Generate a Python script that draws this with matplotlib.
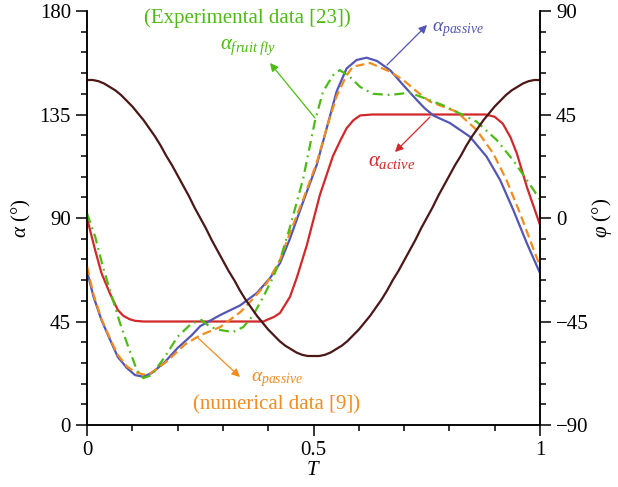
import matplotlib
matplotlib.use("Agg")
import matplotlib.pyplot as plt
from matplotlib.ticker import MultipleLocator

plt.rcParams['font.family'] = ['Liberation Serif', 'DejaVu Serif']
plt.rcParams['mathtext.fontset'] = 'custom'
plt.rcParams['mathtext.rm'] = 'Liberation Serif'
plt.rcParams['mathtext.it'] = 'Liberation Serif:italic'

# alpha_active (deg)
T_active = [0, 0.018, 0.032, 0.051, 0.068, 0.08, 0.094, 0.106, 0.125, 0.39, 0.397,
            0.413, 0.426, 0.448, 0.463, 0.485, 0.514, 0.543, 0.56, 0.573, 0.588,
            0.603, 0.63, 0.88, 0.9, 0.918, 0.935, 0.949, 0.971, 1.0]
alpha_active = [90, 76, 66, 57, 50, 47.5, 46, 45.3, 45, 45, 45.7,
                47, 48.7, 55.7, 64, 78, 100, 117, 124, 129, 132.5,
                134.6, 135, 135, 134, 131, 125, 118, 103.5, 87]

# alpha_passive (present model)
T_passive = [0, 0.014, 0.032, 0.051, 0.068, 0.088, 0.106, 0.124, 0.143, 0.172, 0.2,
             0.231, 0.25, 0.294, 0.338, 0.375, 0.404, 0.426, 0.448, 0.477, 0.507,
             0.529, 0.551, 0.573, 0.595, 0.617, 0.64, 0.669, 0.698, 0.728, 0.745,
             0.765, 0.801, 0.845, 0.882, 0.912, 0.941, 0.971, 1.0]
alpha_passive = [67, 56, 45.6, 37, 29.6, 24.8, 21.7, 21, 22.6, 27.4, 33.5,
                 39, 43, 47.8, 52, 57.4, 63.9, 70.4, 81, 97, 113,
                 129, 145, 155, 158.7, 159.7, 158.3, 154.3, 147.8, 141.3, 137.8,
                 134.5, 131.3, 125.4, 116.7, 106.5, 93.5, 79, 66]

# alpha_passive (numerical data [9])
T_numerical = [0, 0.014, 0.032, 0.051, 0.068, 0.088, 0.106, 0.124, 0.14, 0.172, 0.2,
               0.216, 0.25, 0.294, 0.338, 0.367, 0.397, 0.426, 0.448, 0.477, 0.507,
               0.529, 0.551, 0.573, 0.587, 0.625, 0.669, 0.698, 0.728, 0.757, 0.816,
               0.86, 0.897, 0.926, 0.956, 0.978, 1.0]
alpha_numerical = [69, 57, 46, 37.5, 30.5, 25.5, 23, 22, 22.5, 27, 32,
                   35, 39, 42.6, 49, 55, 61.7, 71.7, 83.5, 98, 114,
                   129, 143, 152, 155.8, 157.4, 153.6, 150, 145, 140.6, 136.2,
                   128.3, 118, 106.5, 92, 80.4, 69]

# alpha_fruit fly (experimental data [23])
T_fruitfly = [0, 0.018, 0.035, 0.055, 0.073, 0.091, 0.11, 0.124, 0.143, 0.172, 0.2,
              0.231, 0.253, 0.272, 0.294, 0.322, 0.345, 0.367, 0.389, 0.411, 0.426,
              0.448, 0.477, 0.503, 0.521, 0.543, 0.558, 0.58, 0.603, 0.631, 0.669,
              0.713, 0.786, 0.86, 0.904, 0.941, 0.971, 1.0]
alpha_fruitfly = [92, 81.9, 68.8, 55.8, 44.2, 34, 23.9, 20.4, 21.7, 29.7, 38.4,
                  44.2, 45.6, 42.6, 41.3, 40.4, 42.6, 47.8, 55.7, 64.3, 71.7,
                  86, 107, 132, 145, 152, 154.3, 151.4, 147, 144, 143.5,
                  144.5, 139, 131.9, 124, 115, 106.5, 98]

# stroke angle phi (deg, right axis), 0.0125 steps
T_phi = [i * 0.0125 for i in range(81)]
phi = [60, 60, 59.5, 58.5, 57, 55.5, 53.5, 51, 48.5, 45.5, 42.5, 39, 35.5, 31.5,
       27, 23, 18.5, 14, 9.5, 4.5, 0, -4.5, -9.5, -14, -18.5, -23, -27, -31.5,
       -35.5, -39, -42.5, -45.5, -48.5, -51, -53.5, -55.5, -57, -58.5, -59.5, -60,
       -60, -60, -59.5, -58.5, -57, -55.5, -53.5, -51, -48.5, -45.5, -42.5, -39,
       -35.5, -31.5, -27, -23, -18.5, -14, -9.5, -4.5, 0, 4.5, 9.5, 14, 18.5, 23,
       27, 31.5, 35.5, 39, 42.5, 45.5, 48.5, 51, 53.5, 55.5, 57, 58.5, 59.5, 60, 60]

c_blue = '#5356b4'
c_orange = '#f28c1e'
c_green = '#4dbb14'
c_red = '#d1282b'
c_brown = '#4b1717'

fig = plt.figure(figsize=(6.18, 4.87), dpi=100)
ax = fig.add_axes([0.1408, 0.1273, 0.7330, 0.8501])
ax2 = ax.twinx()

lw = 1.6
ax.plot(T_active, alpha_active, color=c_red, lw=lw, zorder=3)
ax.plot(T_passive, alpha_passive, color=c_blue, lw=lw, zorder=4)
ax.plot(T_numerical, alpha_numerical, color=c_orange, lw=lw, dashes=(4, 2), zorder=5)
ax.plot(T_fruitfly, alpha_fruitfly, color=c_green, lw=lw, dashes=(4.5, 2.2, 0.8, 2.2),
        zorder=6)
ax2.plot(T_phi, phi, color=c_brown, lw=lw)

ax.set_xlim(0, 1)
ax.set_ylim(0, 180)
ax2.set_ylim(-90, 90)

for a in (ax, ax2):
    a.spines['top'].set_visible(False)
    for s in a.spines.values():
        s.set_linewidth(1.1)
    a.yaxis.set_major_locator(MultipleLocator(45))
    a.yaxis.set_minor_locator(MultipleLocator(9))
    a.tick_params(which='major', length=8, width=1.1, labelsize=15, direction='out')
    a.tick_params(which='minor', length=4.5, width=1.1, direction='out')

ax.xaxis.set_major_locator(MultipleLocator(0.5))
ax.xaxis.set_minor_locator(MultipleLocator(0.1))
ax.xaxis.set_major_formatter(plt.FuncFormatter(lambda v, p: '%g' % v))
ax2.set_yticks([-90, -45, 0, 45, 90])
ax2.set_yticklabels(['\u221290', '\u221245', '0', '45', '90'])

ax.set_xlabel('$T$', fontsize=15, labelpad=1)
ax.set_ylabel('$\\alpha$ (°)', fontsize=15, labelpad=5)
ax2.set_ylabel('$\\varphi$ (°)', fontsize=15, labelpad=1)

def px(x, y):
    # figure-pixel position (from top-left) to figure fraction
    return (x / 618, 1 - y / 487)

arrow = dict(arrowstyle='-|>', lw=0.9, mutation_scale=12, shrinkA=0, shrinkB=0)

fig.text(*px(247, 18), '(Experimental data [23])', color=c_green, fontsize=15,
         ha='center', va='center')
fig.text(*px(248, 47), '$\\alpha_{fruit\\ fly}$', color=c_green, fontsize=15,
         ha='center', va='center')
ax.annotate('', xy=px(270, 63), xytext=px(315, 118), xycoords='figure fraction',
            textcoords='figure fraction', arrowprops=dict(arrow, color=c_green))

fig.text(*px(458, 30), '$\\alpha_{passive}$', color=c_blue, fontsize=14,
         ha='center', va='center')
ax.annotate('', xy=px(427, 25), xytext=px(387, 65), xycoords='figure fraction',
            textcoords='figure fraction', arrowprops=dict(arrow, color=c_blue))

fig.text(*px(392, 162), '$\\alpha_{active}$', color=c_red, fontsize=15,
         ha='center', va='center')
ax.annotate('', xy=px(395, 152), xytext=px(430, 117), xycoords='figure fraction',
            textcoords='figure fraction', arrowprops=dict(arrow, color=c_red))

fig.text(*px(277, 380), '$\\alpha_{passive}$', color=c_orange, fontsize=14,
         ha='center', va='center')
fig.text(*px(277, 405), '(numerical data [9])', color=c_orange, fontsize=15,
         ha='center', va='center')
ax.annotate('', xy=px(240, 377), xytext=px(198, 338), xycoords='figure fraction',
            textcoords='figure fraction', arrowprops=dict(arrow, color=c_orange))

fig.savefig('out.png', dpi=100)
